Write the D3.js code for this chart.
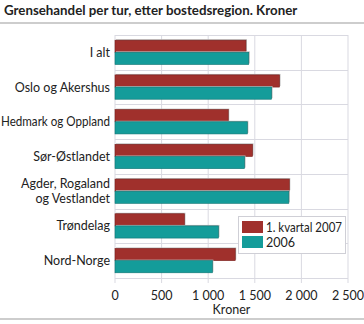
<!DOCTYPE html>
<html>
<head>
<meta charset="utf-8">
<script src="https://cdn.jsdelivr.net/npm/d3@7"></script>
<style>
  body { margin: 0; background: #fff; }
  svg { display: block; font-family: Lato, "Noto Sans", sans-serif; }
</style>
</head>
<body>
<svg id="chart" width="364" height="324"></svg>
<script>
const categories = ["I alt", "Oslo og Akershus", "Hedmark og Oppland", "Sør-Østlandet",
  "Agder, Rogaland\nog Vestlandet", "Trøndelag", "Nord-Norge"];
const seriesNames = ["1. kvartal 2007", "2006"];
const values2007 = [1405, 1765, 1215, 1475, 1870, 745, 1290];
const values2006 = [1435, 1680, 1420, 1390, 1865, 1110, 1045];
const xTicks = [0, 500, 1000, 1500, 2000, 2500];
const colors = ["#a0302c", "#149c9a"];
const strokes = ["#7a1f1c", "#0e7472"];

const svg = d3.select("#chart");
const margin = { left: 115, right: 16, top: 35, bottom: 46 };
const W = 364, H = 324;
const fs = 12.5;

// Condense a text line horizontally when it is wider than maxW
function fitWidth(sel, maxW) {
  const w = sel.node().getComputedTextLength();
  if (w > maxW) sel.attr("textLength", maxW).attr("lengthAdjust", "spacingAndGlyphs");
}

// Title and rules
svg.append("text").attr("x", 4).attr("y", 15)
  .attr("font-size", 13.3).attr("font-weight", 700).attr("fill", "#222")
  .text("Grensehandel per tur, etter bostedsregion. Kroner");
svg.append("line").attr("x1", 0).attr("x2", W).attr("y1", 23).attr("y2", 23)
  .attr("stroke", "#bdbdbd").attr("stroke-width", 1.5);
svg.append("line").attr("x1", 0).attr("x2", W).attr("y1", 319).attr("y2", 319)
  .attr("stroke", "#bdbdbd").attr("stroke-width", 1.5);

const x = d3.scaleLinear().domain([0, 2500]).range([margin.left, 348]);
const y = d3.scaleBand().domain(categories).range([margin.top, 278]).paddingInner(0.3).paddingOuter(0.15);
const sub = d3.scaleBand().domain(seriesNames).range([0, y.bandwidth()]);

// Grid
const g = svg.append("g");
g.selectAll(".vgrid").data(xTicks).join("line")
  .attr("x1", d => x(d)).attr("x2", d => x(d))
  .attr("y1", margin.top).attr("y2", 283)
  .attr("stroke", "#d9d9e1").attr("stroke-width", 1);
const hLines = [margin.top, 278].concat(categories.slice(1).map(c => y(c) - y.step() * y.paddingInner() / 2));
g.selectAll(".hgrid").data(hLines).join("line")
  .attr("x1", margin.left).attr("x2", 348)
  .attr("y1", d => Math.round(d) + 0.5).attr("y2", d => Math.round(d) + 0.5)
  .attr("stroke", "#d9d9e1").attr("stroke-width", 1);

// Bars
const rows = categories.map((c, i) => ({ c, v: [values2007[i], values2006[i]] }));
const barG = svg.append("g");
rows.forEach(r => {
  r.v.forEach((v, j) => {
    const y0 = y(r.c) + sub(seriesNames[j]);
    // soft shadow
    barG.append("rect")
      .attr("x", x(0) + 1).attr("y", y0 - 1)
      .attr("width", x(v) - x(0)).attr("height", sub.bandwidth())
      .attr("fill", "#b8b8b8");
    barG.append("rect")
      .attr("x", x(0)).attr("y", y0)
      .attr("width", x(v) - x(0)).attr("height", sub.bandwidth())
      .attr("fill", colors[j]).attr("stroke", strokes[j]).attr("stroke-width", 0.6);
  });
});

// X axis labels
svg.append("g").selectAll("text").data(xTicks).join("text")
  .attr("x", d => x(d)).attr("y", 300)
  .attr("text-anchor", "middle").attr("font-size", fs).attr("fill", "#222")
  .text(d => d === 0 ? "0" : d3.format(",")(d).replace(/,/g, " "));
svg.append("text").attr("x", x(1250)).attr("y", 314)
  .attr("text-anchor", "middle").attr("font-size", fs).attr("fill", "#222").text("Kroner");

// Category labels
const catG = svg.append("g");
categories.forEach(c => {
  const lines = c.split("\n");
  const cy = y(c) + y.bandwidth() / 2;
  const t = catG.append("text").attr("text-anchor", "end").attr("font-size", fs).attr("fill", "#222");
  lines.forEach((ln, k) => {
    const sp = t.append("tspan").attr("x", 110)
      .attr("y", cy + 4.5 + (k - (lines.length - 1) / 2) * 15)
      .text(ln);
    fitWidth(sp, 109);
  });
});

// Legend
const lg = svg.append("g");
lg.append("rect").attr("x", 238.5).attr("y", 216.5).attr("width", 107).attr("height", 37)
  .attr("fill", "#fff").attr("stroke", "#cfcfd6");
seriesNames.forEach((s, j) => {
  lg.append("rect").attr("x", 242).attr("y", 221 + j * 15).attr("width", 21).attr("height", 12)
    .attr("fill", colors[j]);
  const t = lg.append("text").attr("x", 266).attr("y", 232 + j * 15)
    .attr("font-size", fs).attr("fill", "#222").text(s);
  fitWidth(t, 76);
});
</script>
</body>
</html>
